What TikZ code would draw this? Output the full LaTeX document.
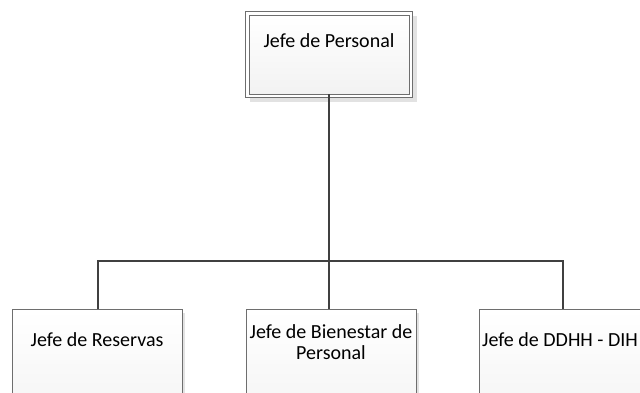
\documentclass[tikz,border=0pt]{standalone}
\usepackage{fontspec}
\setmainfont{Carlito}
\usetikzlibrary{positioning}
\definecolor{boxline}{HTML}{6E6E6E}
\definecolor{conn}{HTML}{404040}
\definecolor{shadowc}{HTML}{E2E2E2}
\tikzset{
  orgbox/.style={draw=boxline, line width=0.9pt, top color=white, bottom color=gray!8,
    minimum width=170pt, minimum height=100pt, anchor=north west, inner sep=0pt},
  topbox/.style={draw=boxline, line width=0.9pt, top color=white, bottom color=gray!10,
    minimum width=160pt, minimum height=79pt, anchor=north west, inner sep=0pt},
  conline/.style={draw=conn, line width=1.8pt},
  lbl/.style={font=\fontsize{20}{22}\selectfont, text=black, align=center, inner sep=0pt},
}
\begin{document}
\begin{tikzpicture}[x=1pt,y=-1pt]
\useasboundingbox (0,0) rectangle (640,392);
\fill[white] (0,0) rectangle (640,392);
% shadows
\fill[shadowc] (250,16) rectangle (417,102);
\fill[shadowc] (17,313) rectangle (185,400);
\fill[shadowc] (251,313) rectangle (419,400);
% top box (double border)
\fill[white] (245,11) rectangle (412,97);
\draw[boxline, line width=0.9pt] (245,11) rectangle (412,97);
\node[topbox] (top) at (249,14.5) {};
\node[lbl] (toptxt) at (329,41) {Jefe de Personal};
% bottom boxes
\node[orgbox] (b1) at (12,309) {};
\node[orgbox] (b2) at (246,309) {};
\node[orgbox] (b3) at (479,309) {};
\node[lbl] (t1) at (97,340) {Jefe de Reservas};
\node[lbl] (t2) at (331,342) {Jefe de Bienestar de\\[-1pt]Personal};
\node[lbl, anchor=west] (t3) at (482,340) {Jefe de DDHH - DIH};
% connectors
\coordinate (hub) at (329,261);
\draw[conline] (top.south -| hub) -- (hub);
\draw[conline] ([xshift=-85pt]b1.north east) |- (hub) -| ([xshift=84pt]b3.north west);
\draw[conline] (hub) -- (hub |- b2.north);
\end{tikzpicture}
\end{document}
